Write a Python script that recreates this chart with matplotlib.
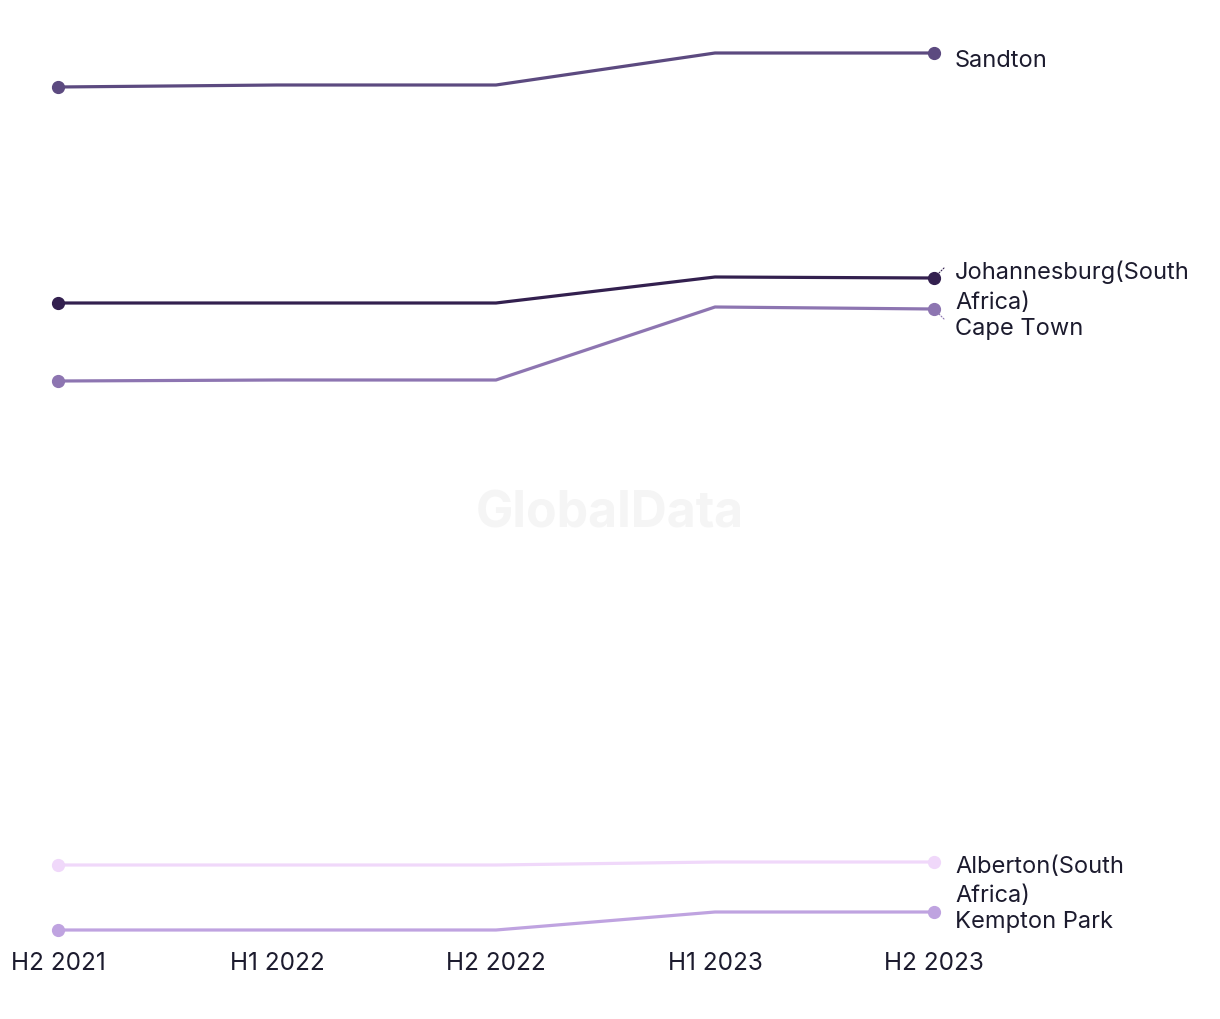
import textwrap
import matplotlib
matplotlib.use("Agg")
import matplotlib.pyplot as plt

periods = ["H2 2021", "H1 2022", "H2 2022", "H1 2023", "H2 2023"]
series_names = ["Sandton", "Johannesburg(South Africa)", "Cape Town",
                "Alberton(South Africa)", "Kempton Park"]
sandton = [84.3, 84.5, 84.5, 87.7, 87.7]
johannesburg = [62.7, 62.7, 62.7, 65.3, 65.2]
cape_town = [54.9, 55.0, 55.0, 62.3, 62.1]
alberton = [6.5, 6.5, 6.5, 6.8, 6.8]
kempton_park = [0.0, 0.0, 0.0, 1.8, 1.8]
values = [sandton, johannesburg, cape_town, alberton, kempton_park]

colors = ["#5c4a80", "#33204f", "#8d75b1", "#f0d8fa", "#bfa3e0"]
# label vertical offsets in pixels (downward) relative to last point
label_offsets = [7, 8, 19, 18.5, 9]
connector = [False, True, True, False, False]

plt.rcParams['font.family'] = ['Inter', 'DejaVu Sans']
text_color = "#1c1b2e"

W, H = 1220, 1020
fig = plt.figure(figsize=(W / 100, H / 100), dpi=100)
left, right = 58 / W, 934 / W
bottom, top = (H - 931) / H, (H - 54) / H
ax = fig.add_axes([left, bottom, right - left, top - bottom])
x = list(range(len(periods)))
ax.set_xlim(0, len(periods) - 1)
ax.set_ylim(0, 87.7)

for name, vals, c, off, conn in zip(series_names, values, colors, label_offsets, connector):
    ax.plot(x, vals, color=c, lw=2.3, marker="o", markersize=8.5,
            markevery=[0, len(vals) - 1], clip_on=False, solid_capstyle="round", zorder=3)
    label = "\n".join(textwrap.wrap(name, 18))
    ax.annotate(label, xy=(x[-1], vals[-1]), xytext=(21 * 0.72, -off * 0.72),
                textcoords="offset points", ha="left", va="center",
                fontsize=17, color=text_color, linespacing=1.45, annotation_clip=False)
    if conn:
        sign = 1 if off < 12 else -1
        ax.annotate("", xy=(x[-1], vals[-1]),
                    xytext=(10 * 0.72, sign * 10 * 0.72), textcoords="offset points",
                    arrowprops=dict(arrowstyle="-", color=c, lw=0.8, linestyle=":",
                                    shrinkA=0, shrinkB=3),
                    annotation_clip=False)

ax.set_xticks(x)
ax.set_xticklabels(periods, fontsize=17.5, color=text_color)
ax.tick_params(axis="x", length=0, pad=15)
ax.set_yticks([])
for s in ax.spines.values():
    s.set_visible(False)

fig.text(610 / W, 1 - 514 / H, "GlobalData", ha="center", va="center",
         fontsize=36, fontweight="bold", color="#f5f5f5", zorder=0)

fig.savefig("out.png", dpi=100, facecolor="white")
